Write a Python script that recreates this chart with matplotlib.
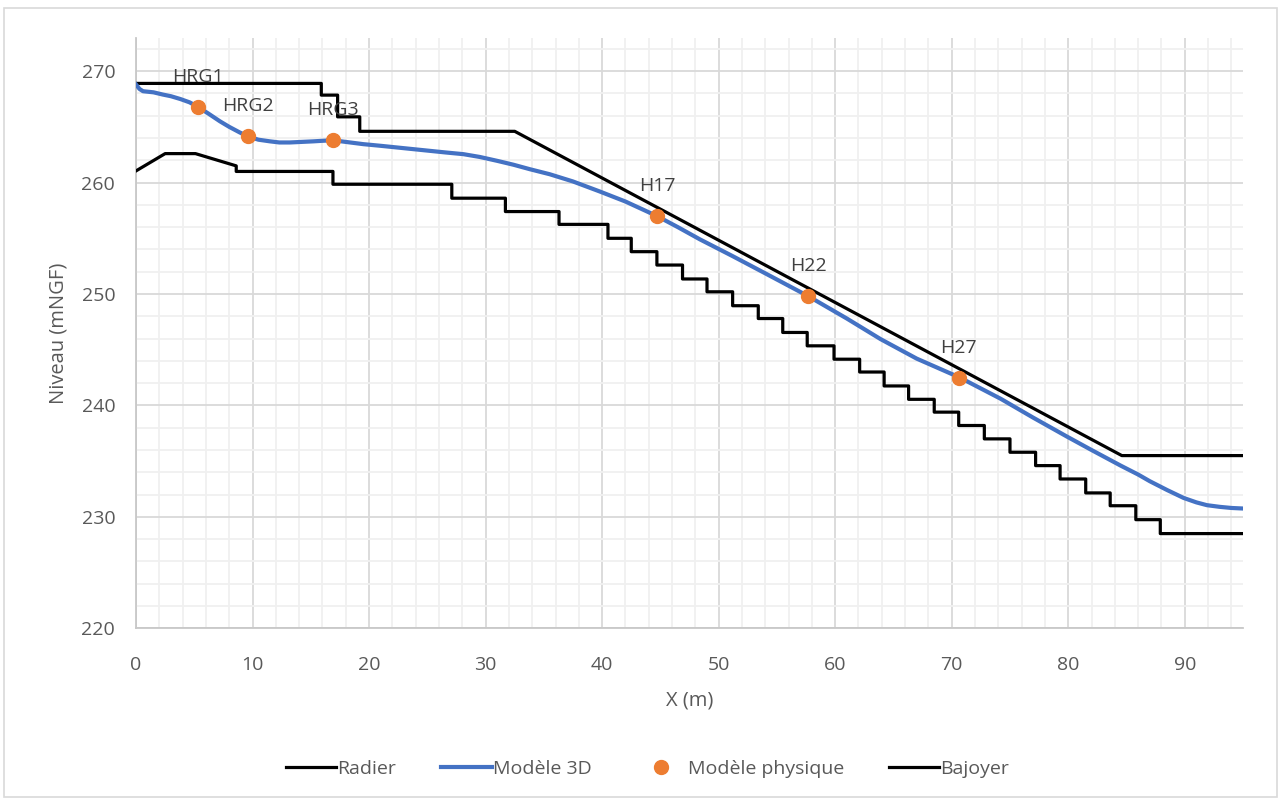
import numpy as np
import matplotlib.pyplot as plt
from matplotlib.patches import Rectangle
from matplotlib.ticker import MultipleLocator

plt.rcParams['font.family'] = ['Open Sans', 'DejaVu Sans']

# Radier (upper profile)
radier_x = [0, 15.9, 15.9, 17.3, 17.3, 19.2, 19.2, 32.5, 84.6, 95]
radier_y = [268.9, 268.9, 267.85, 267.85, 265.9, 265.9, 264.6, 264.6, 235.5, 235.5]

# Bajoyer (stepped lower profile)
bajoyer_x = [0, 2.5, 5.1, 8.6, 8.6, 16.9, 16.9, 27.1, 27.1, 31.7, 31.7, 36.3, 36.3,
             40.5, 40.5, 42.5, 42.5, 44.7, 44.7, 46.9, 46.9, 49.0, 49.0, 51.2, 51.2,
             53.4, 53.4, 55.5, 55.5, 57.6, 57.6, 59.9, 59.9, 62.1, 62.1, 64.2, 64.2,
             66.3, 66.3, 68.5, 68.5, 70.6, 70.6, 72.8, 72.8, 75.0, 75.0, 77.2, 77.2,
             79.3, 79.3, 81.5, 81.5, 83.6, 83.6, 85.8, 85.8, 87.9, 87.9, 95]
bajoyer_y = [261.05, 262.6, 262.6, 261.5, 261.0, 261.0, 259.85, 259.85, 258.6, 258.6,
             257.4, 257.4, 256.25, 256.25, 255.0, 255.0, 253.8, 253.8, 252.6, 252.6,
             251.35, 251.35, 250.2, 250.2, 248.95, 248.95, 247.8, 247.8, 246.55, 246.55,
             245.35, 245.35, 244.15, 244.15, 243.0, 243.0, 241.75, 241.75, 240.55, 240.55,
             239.4, 239.4, 238.2, 238.2, 237.0, 237.0, 235.8, 235.8, 234.6, 234.6,
             233.4, 233.4, 232.15, 232.15, 231.0, 231.0, 229.75, 229.75, 228.5, 228.5]

# Modèle 3D water surface
model_x = [0, 0.3, 0.6, 1.5, 2.3, 3.0, 3.8, 4.6, 5.3, 6.2, 7.2, 8.0, 8.9, 9.6, 10.5,
           11.5, 12.3, 13.2, 14.2, 15.2, 16.0, 16.9, 18.0, 19.5, 21.0, 22.4, 23.8,
           25.2, 26.6, 28.1, 29.5, 31.0, 32.4, 33.8, 35.5, 37.5, 39.8, 42.0, 44.7,
           46.5, 48.4, 51.2, 54.1, 57.7, 61.0, 63.9, 67.0, 70.7, 74.2, 77.0, 79.9,
           82.0, 84.5, 86.0, 87.0, 88.5, 89.9, 91.0, 91.9, 93.0, 94.0, 95.0]
model_y = [268.8, 268.4, 268.2, 268.1, 267.9, 267.75, 267.5, 267.2, 266.8, 266.2,
           265.5, 265.0, 264.5, 264.15, 263.85, 263.7, 263.6, 263.6, 263.65, 263.7,
           263.75, 263.8, 263.65, 263.45, 263.3, 263.15, 263.0, 262.85, 262.7, 262.55,
           262.3, 261.95, 261.6, 261.2, 260.75, 260.1, 259.2, 258.3, 257.0, 256.0,
           254.9, 253.4, 251.8, 249.8, 247.8, 245.95, 244.2, 242.5, 240.6, 238.9,
           237.2, 236.0, 234.6, 233.8, 233.2, 232.4, 231.7, 231.3, 231.05, 230.9,
           230.8, 230.75]

# Modèle physique probes
probe_names = ['HRG1', 'HRG2', 'HRG3', 'H17', 'H22', 'H27']
probe_x = [5.3, 9.6, 16.9, 44.7, 57.7, 70.6]
probe_y = [266.8, 264.2, 263.8, 257.0, 249.8, 242.5]

fig = plt.figure(figsize=(12.82, 8.01), dpi=100)
ax = fig.add_axes([0.1061, 0.2156, 0.8635, 0.7373])

ax.plot(radier_x, radier_y, color='black', lw=2.3, label='Radier', zorder=3)
ax.plot(model_x, model_y, color='#4472C4', lw=3.0, label='Modèle 3D', zorder=4)
ax.plot(probe_x, probe_y, ls='none', marker='o', ms=10, color='#ED7D31',
        label='Modèle physique', zorder=5)
ax.plot(bajoyer_x, bajoyer_y, color='black', lw=2.3, label='Bajoyer', zorder=3)

for name, px, py in zip(probe_names, probe_x, probe_y):
    ax.annotate(name, (px, py), xytext=(0, 15), textcoords='offset points',
                ha='center', va='bottom', fontsize=14, color='#404040', zorder=6)

ax.set_xlim(0, 95)
ax.set_ylim(220, 273)
ax.xaxis.set_major_locator(MultipleLocator(10))
ax.xaxis.set_minor_locator(MultipleLocator(2))
ax.yaxis.set_major_locator(MultipleLocator(10))
ax.yaxis.set_minor_locator(MultipleLocator(2))
ax.grid(which='major', color='#d9d9d9', lw=1.3)
ax.grid(which='minor', color='#f0f0f0', lw=1.3)
ax.set_axisbelow(True)

for side in ['top', 'right']:
    ax.spines[side].set_visible(False)
for side in ['left', 'bottom']:
    ax.spines[side].set_color('#c8c8c8')
    ax.spines[side].set_linewidth(1.3)
ax.tick_params(which='both', length=0, colors='#595959', labelsize=14)
ax.tick_params(axis='x', pad=20)
ax.tick_params(axis='y', pad=15)

ax.set_xlabel('X (m)', fontsize=14.5, color='#595959', labelpad=12)
ax.set_ylabel('Niveau (mNGF)', fontsize=14.5, color='#595959', labelpad=9)

fig.legend(loc='center', bbox_to_anchor=(0.505, 0.04), ncol=4, frameon=False,
           fontsize=14, handlelength=2.6, handletextpad=0.05, columnspacing=2.3,
           labelcolor='#595959')

fig.patches.append(Rectangle((4 / 1282, 4 / 801), 1 - 9 / 1282, 1 - 12 / 801,
                             transform=fig.transFigure, fill=False,
                             edgecolor='#d9d9d9', lw=1.2))

fig.savefig('out.png', dpi=100)
